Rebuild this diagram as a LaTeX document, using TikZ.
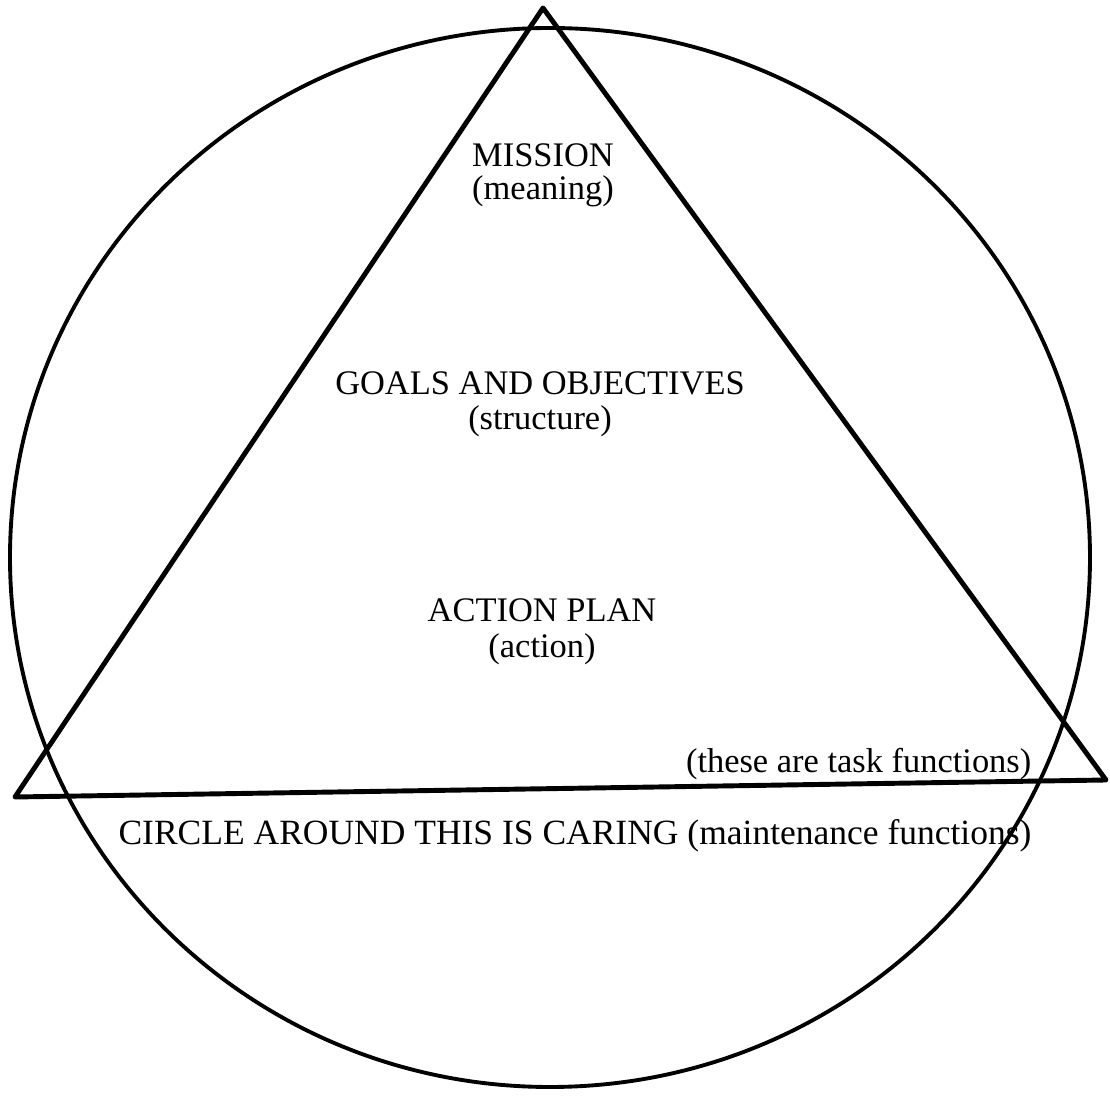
\documentclass[tikz,border=0pt]{standalone}
\usepackage{fontspec}
\setmainfont{Liberation Serif}
\usepackage{tikz}
\usetikzlibrary{positioning}

\begin{document}
\begin{tikzpicture}[
    every node/.style={font=\fontsize{9.8}{9.4}\selectfont},
    lbl/.style={anchor=base, inner sep=0pt},
    tri/.style={draw=black, line width=1.4pt, line join=round},
    ring/.style={draw=black, line width=1.1pt}
]
\useasboundingbox (0,0) rectangle (11.10,11.02);

% SHAPES
\coordinate (apex)  at (5.43, 10.94);
\coordinate (left)  at (0.15, 3.05);
\coordinate (right) at (11.06, 3.22);

\draw[ring] (5.50, 5.445) ellipse [x radius=5.40, y radius=5.295];
\draw[tri] (apex) -- (left) -- (right) -- cycle;

% LABELS
\node[lbl] (mission)  at (5.43, 9.35) {MISSION};
\node[lbl] (meaning)  at (5.43, 9.02) {(meaning)};
\node[lbl] (goals)    at (5.40, 7.07) {GOALS AND OBJECTIVES};
\node[lbl] (struct)   at (5.40, 6.72) {(structure)};
\node[lbl] (plan)     at (5.42, 4.80) {ACTION PLAN};
\node[lbl] (action)   at (5.42, 4.44) {(action)};
\node[lbl, anchor=base east] (task) at (10.32, 3.29) {(these are task functions)};
\node[lbl, font=\fontsize{10.1}{9.4}\selectfont] (caring) at (5.75, 2.57)
    {CIRCLE AROUND THIS IS CARING (maintenance functions)};

\end{tikzpicture}
\end{document}
